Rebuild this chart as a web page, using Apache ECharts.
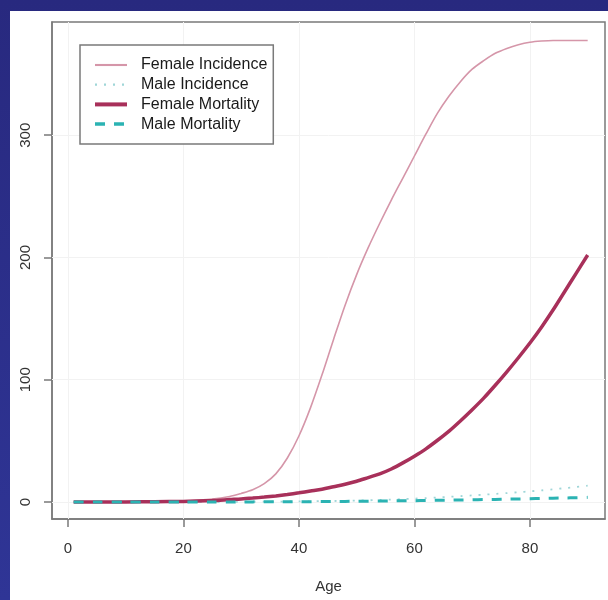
<!DOCTYPE html>
<html>
<head>
<meta charset="utf-8">
<script src="https://cdn.jsdelivr.net/npm/echarts@6/dist/echarts.min.js"></script>
<style>
  html, body { margin: 0; padding: 0; }
  body { width: 608px; height: 600px; position: relative; background: linear-gradient(180deg, #28297f 0%, #2f3596 100%); overflow: hidden; }
  #panel { position: absolute; left: 10px; top: 11px; right: 0; bottom: 0; background: #fff; }
  #chart { position: absolute; left: 0; top: 0; width: 608px; height: 600px; }
</style>
</head>
<body>
<div id="panel"></div>
<div id="chart"></div>
<script>
// ages the curves were read at
const ages = [1, 5, 10, 15, 20, 25, 28, 30, 32, 34, 36, 38, 40, 42, 44, 46, 48, 50, 52, 54, 56, 58, 60,
  62, 64, 66, 68, 70, 72, 74, 76, 78, 80, 82, 84, 86, 88, 90];

const femaleIncidence = [0, 0, 0.1, 0.3, 1, 2.5, 4.5, 7, 10, 15, 23, 36, 54, 77, 104, 133, 161, 186, 208, 228, 247, 265, 283,
  301, 318, 332, 344, 354, 361, 367, 371, 374, 376, 377, 377.5, 377.5, 377.5, 377.5];
const maleIncidence = [0, 0, 0, 0, 0, 0.1, 0.1, 0.2, 0.2, 0.3, 0.3, 0.4, 0.5, 0.6, 0.7, 0.8, 1, 1.2, 1.4, 1.7, 2, 2.4, 2.8,
  3.2, 3.7, 4.2, 4.8, 5.4, 6, 6.6, 7.3, 8, 8.7, 9.5, 10.4, 11.3, 12.3, 13.4];
const femaleMortality = [0, 0, 0.1, 0.2, 0.5, 1.2, 2, 2.5, 3.2, 4, 5, 6.2, 7.5, 9, 10.5, 12.5, 14.5, 17, 20, 23, 27, 32, 37.5,
  43.5, 50.5, 58, 66.5, 75.5, 85, 95.5, 106.5, 118, 130, 143, 157, 172, 187, 202];
const maleMortality = [0, 0, 0, 0, 0, 0, 0.1, 0.1, 0.1, 0.2, 0.2, 0.2, 0.3, 0.3, 0.4, 0.5, 0.5, 0.6, 0.7, 0.8, 0.9, 1, 1.1,
  1.2, 1.4, 1.5, 1.7, 1.8, 2, 2.1, 2.3, 2.5, 2.7, 2.9, 3.1, 3.3, 3.5, 3.8];

const xTicks = [0, 20, 40, 60, 80];
const yTicks = [0, 100, 200, 300];

const seriesNames = ['Female Incidence', 'Male Incidence', 'Female Mortality', 'Male Mortality'];

const pair = (vals) => ages.map((a, i) => [a, vals[i]]);

const labelFont = { fontFamily: 'Liberation Sans', fontSize: 15, color: '#333' };
const boxGrey = '#7a7a7a';

const styles = [
  { color: '#d596a9', width: 1.6, type: 'solid' },
  { color: '#9fd6d8', width: 1.8, type: [2, 7] },
  { color: '#a8305a', width: 3.5, type: 'solid' },
  { color: '#2bb3b3', width: 3, type: [10, 9] }
];

// faint grid at the tick positions
const gridLines = xTicks.map(v => ({ xAxis: v })).concat(yTicks.map(v => ({ yAxis: v })));

// curves live on their own layer so the grid lines stay underneath
const lineSeries = [femaleIncidence, maleIncidence, femaleMortality, maleMortality].map((vals, i) => ({
  name: seriesNames[i], type: 'line', data: pair(vals),
  smooth: 0.3, symbol: 'none', zlevel: 1, z: 3 + i,
  lineStyle: styles[i], itemStyle: { color: styles[i].color }
}));

const gridSeries = {
  name: 'grid', type: 'line', data: [], zlevel: 0, z: 1, silent: true,
  markLine: {
    silent: true, symbol: 'none', label: { show: false },
    lineStyle: { color: '#f2f2f2', type: 'solid', width: 1 },
    data: gridLines
  }
};

const chart = echarts.init(document.getElementById('chart'), null, { renderer: 'canvas' });

chart.setOption({
  animation: false,
  backgroundColor: 'transparent',
  grid: {
    left: 52, top: 22, right: 3, bottom: 81,
    show: true, borderColor: boxGrey, borderWidth: 1.5, backgroundColor: 'transparent'
  },
  legend: {
    left: 80, top: 45, zlevel: 1, z: 20,
    orient: 'vertical',
    data: seriesNames.map((n, i) => ({ name: n, lineStyle: { width: styles[i].width + 0.5 } })),
    backgroundColor: '#fff',
    borderColor: boxGrey, borderWidth: 1.5,
    padding: [12, 6, 12, 13],
    itemWidth: 32, itemHeight: 14, itemGap: 3.7,
    itemStyle: { opacity: 0 },
    textStyle: { fontFamily: 'Liberation Sans', fontSize: 16, color: '#1a1a1a', padding: [0, 0, 0, 9] }
  },
  xAxis: {
    type: 'value', min: -2.75, max: 93,
    name: 'Age', nameLocation: 'middle', nameGap: 60,
    nameTextStyle: labelFont,
    axisLine: { show: true, onZero: false, lineStyle: { color: boxGrey, width: 1.5 } },
    axisTick: { show: true, inside: false, length: 8, customValues: xTicks, lineStyle: { color: boxGrey, width: 1.5 } },
    axisLabel: { customValues: xTicks, margin: 22, ...labelFont },
    splitLine: { show: false }
  },
  yAxis: {
    type: 'value', min: -13.9, max: 392.6,
    axisLine: { show: true, onZero: false, lineStyle: { color: boxGrey, width: 1.5 } },
    axisTick: { show: true, inside: false, length: 8, customValues: yTicks, lineStyle: { color: boxGrey, width: 1.5 } },
    axisLabel: { customValues: yTicks, rotate: 90, margin: 19, ...labelFont },
    splitLine: { show: false }
  },
  series: [gridSeries].concat(lineSeries)
});
</script>
</body>
</html>
